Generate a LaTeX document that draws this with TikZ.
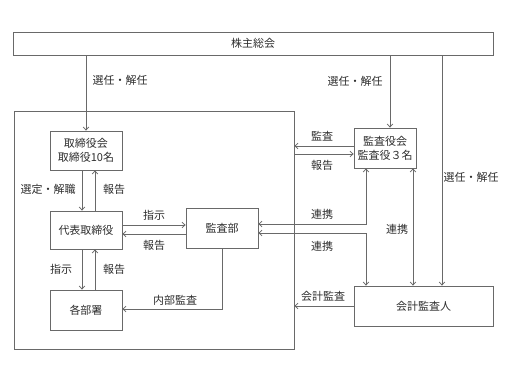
\documentclass[tikz,border=0pt]{standalone}
\usepackage{fontspec}
\newfontfamily\jpfont{Noto Sans CJK JP}
\usepackage{tikz}
\usetikzlibrary{arrows.meta, positioning}
\definecolor{linegray}{RGB}{105,105,105}
\definecolor{textgray}{RGB}{45,45,45}

\begin{document}
\begin{tikzpicture}[x=1pt, y=-1pt, >={Straight Barb[length=3pt,width=5.5pt]},
    box/.style={draw=linegray, line width=0.8pt, inner sep=0pt, align=center,
        font=\jpfont\fontsize{11}{14}\selectfont, text=textgray},
    lbl/.style={font=\jpfont\fontsize{11}{13}\selectfont, text=textgray, inner sep=0pt},
    con/.style={draw=linegray, line width=0.8pt}]
    \useasboundingbox (0,0) rectangle (507,380);

    % 箱
    \node[box, minimum width=480pt, minimum height=23pt] (soukai) at (253,43.5) {株主総会};
    \node[box, minimum width=280pt, minimum height=238pt] (kaisha) at (154,230) {};
    \node[box, minimum width=72pt, minimum height=39pt] (torikai) at (86,150.5) {取締役会\\取締役10名};
    \node[box, minimum width=72pt, minimum height=38pt] (daihyo) at (86,230) {代表取締役};
    \node[box, minimum width=72pt, minimum height=40pt] (busho) at (86,310) {各部署};
    \node[box, minimum width=72pt, minimum height=40pt] (kansabu) at (222,228) {監査部};
    \node[box, minimum width=62pt, minimum height=40pt] (kansayaku) at (385,148) {監査役会\\監査役３名};
    \node[box, minimum width=139pt, minimum height=40pt] (kaikei) at (423.5,306) {会計監査人};

    % 線の位置
    \coordinate (xdn) at (82,0);
    \coordinate (xup) at (95,0);
    \coordinate (xks) at (390,0);
    \coordinate (xrk) at (366,0);
    \coordinate (xmd) at (413,0);
    \coordinate (xkk) at (442,0);
    \coordinate (yshiji) at (0,225);
    \coordinate (yhoukoku) at (0,234);
    \coordinate (ynaibu) at (0,309);
    \coordinate (ykansa) at (0,146);
    \coordinate (ykhou) at (0,154);
    \coordinate (yrk1) at (0,224);
    \coordinate (yrk2) at (0,233);

    % 株主総会から
    \draw[con, ->] (soukai.south -| torikai.north) -- (torikai.north);
    \draw[con, ->] (soukai.south -| xks) -- (kansayaku.north -| xks);
    \draw[con, ->] (soukai.south -| xkk) -- (kaikei.north -| xkk);
    \node[lbl] (l1) at (120,80) {選任・解任};
    \node[lbl] (l2) at (355,81) {選任・解任};
    \node[lbl] (l3) at (471,177) {選任・解任};

    % 会社の中
    \draw[con, ->] (torikai.south -| xdn) -- (daihyo.north -| xdn);
    \draw[con, ->] (daihyo.north -| xup) -- (torikai.south -| xup);
    \node[lbl] (l4) at (48,189) {選定・解職};
    \node[lbl] (l5) at (114,189) {報告};
    \draw[con, ->] (daihyo.east |- yshiji) -- (kansabu.west |- yshiji);
    \draw[con, ->] (kansabu.west |- yhoukoku) -- (daihyo.east |- yhoukoku);
    \node[lbl] (l6) at (154,215) {指示};
    \node[lbl] (l7) at (154,245) {報告};
    \draw[con, ->] (daihyo.south -| xdn) -- (busho.north -| xdn);
    \draw[con, ->] (busho.north -| xup) -- (daihyo.south -| xup);
    \node[lbl] (l8) at (61,269) {指示};
    \node[lbl] (l9) at (114,269) {報告};
    \draw[con, ->] (kansabu.south) -- (kansabu.south |- ynaibu) -- (busho.east |- ynaibu);
    \node[lbl] (l10) at (175,300) {内部監査};

    % 監査役会・会計監査人
    \draw[con, ->] (kansayaku.west |- ykansa) -- (kaisha.east |- ykansa);
    \draw[con, ->] (kaisha.east |- ykhou) -- (kansayaku.west |- ykhou);
    \node[lbl] (l11) at (322,136) {監査};
    \node[lbl] (l12) at (322,165) {報告};
    \draw[con, <->] (kansayaku.south -| xrk) -- (xrk |- yrk1) -- (kansabu.east |- yrk1);
    \draw[con, <->] (kansabu.east |- yrk2) -- (xrk |- yrk2) -- (kaikei.north -| xrk);
    \node[lbl] (l13) at (322,214) {連携};
    \node[lbl] (l14) at (322,246) {連携};
    \draw[con, <->] (kansayaku.south -| xmd) -- (kaikei.north -| xmd);
    \node[lbl] (l15) at (397,229) {連携};
    \draw[con, ->] (kaikei.west) -- (kaisha.east |- kaikei.west);
    \node[lbl] (l16) at (323,296) {会計監査};
\end{tikzpicture}
\end{document}
